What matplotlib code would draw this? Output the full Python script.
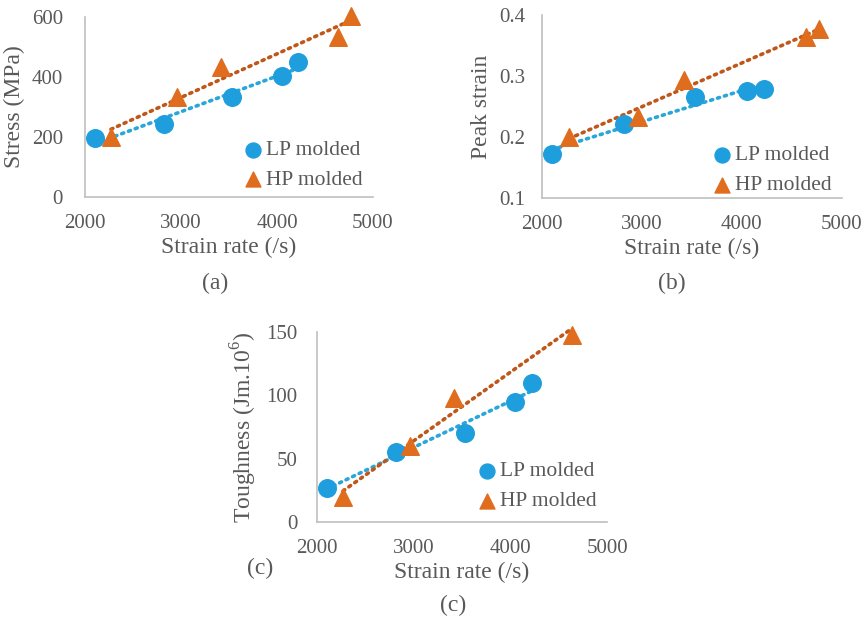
import numpy as np
import matplotlib.pyplot as plt

# strain rates
lp_rate = [2100, 2820, 3530, 4050, 4220]
hp_rate = [2270, 2960, 3420, 4640, 4770]

# (a) stress
lp_stress = [195, 243, 333, 403, 450]
hp_stress = [200, 333, 433, 533, 603]

# (b) peak strain
lp_strain = [0.172, 0.221, 0.266, 0.276, 0.279]
hp_strain = [0.200, 0.233, 0.294, 0.364, 0.377]

# (c) toughness (only four HP points shown)
lp_tough = [27, 55, 70, 95, 110]
hp_rate_c = [2270, 2960, 3420, 4640]
hp_tough = [20, 60, 98, 148]

plt.rcParams['font.family'] = ['Liberation Serif', 'DejaVu Serif']
plt.rcParams['mathtext.fontset'] = 'custom'
plt.rcParams['mathtext.rm'] = 'Liberation Serif'
TXT = '#595959'
BLUE = '#1f9ede'
BLUE_LINE = '#2aa6d8'
ORANGE = '#e06c1e'
ORANGE_LINE = '#c0571a'
FS = 15


def panel(ax, x1, y1, x2, y2, ylim, yticks, ylabel, yfmt, ypad, leg_y):
    ax.scatter(x1, y1, s=160, marker='o', color=BLUE, zorder=3, clip_on=False,
               label='LP molded')
    ax.scatter(x2, y2, s=160, marker='^', color=ORANGE, zorder=3, clip_on=False,
               label='HP molded')
    for x, y, c in [(x1, y1, BLUE_LINE), (x2, y2, ORANGE_LINE)]:
        p = np.polyfit(x, y, 1)
        xx = np.array([min(x), max(x)])
        ax.plot(xx, np.polyval(p, xx), color=c, lw=2.6, dashes=(0.6, 1.4),
                dash_capstyle='round', zorder=2, clip_on=False)
    ax.set_xlim(2000, 5000)
    ax.set_ylim(*ylim)
    ax.set_xticks([2000, 3000, 4000, 5000])
    ax.set_yticks(yticks)
    ax.set_yticklabels([yfmt(v) for v in yticks])
    for s in ['top', 'right']:
        ax.spines[s].set_visible(False)
    for s in ['left', 'bottom']:
        ax.spines[s].set_color('#bfbfbf')
        ax.spines[s].set_linewidth(1.2)
    ax.tick_params(length=0, labelsize=FS, colors=TXT)
    ax.tick_params(axis='x', pad=12)
    ax.tick_params(axis='y', pad=ypad)
    ax.set_xlabel('Strain rate (/s)', fontsize=FS + 2, color=TXT, labelpad=3)
    ax.set_ylabel(ylabel, fontsize=FS + 2, color=TXT, labelpad=5)
    ax.set_facecolor('none')
    leg = ax.legend(loc='lower right', frameon=False, fontsize=FS + 0.5,
                    handlelength=1.0, handletextpad=0.1, labelspacing=0.45,
                    markerscale=0.85, bbox_to_anchor=(1.03, leg_y))
    for t in leg.get_texts():
        t.set_color(TXT)


fig = plt.figure(figsize=(8.61, 6.27), dpi=100)

ax1 = fig.add_axes([0.0987, 0.686, 0.3345, 0.287])
panel(ax1, lp_rate, lp_stress, hp_rate, hp_stress, (0, 600), [0, 200, 400, 600],
      'Stress (MPa)', lambda v: '%d' % v, 16, -0.07)

ax2 = fig.add_axes([0.6295, 0.684, 0.348, 0.292])
panel(ax2, lp_rate, lp_strain, hp_rate, hp_strain, (0.1, 0.4), [0.1, 0.2, 0.3, 0.4],
      'Peak strain', lambda v: '%.1f' % v, 12, -0.09)

ax3 = fig.add_axes([0.368, 0.1675, 0.337, 0.303])
panel(ax3, lp_rate, lp_tough, hp_rate_c, hp_tough, (0, 150), [0, 50, 100, 150],
      'Toughness (Jm.10$^6$)', lambda v: '%d' % v, 14, -0.045)

fig.text(215 / 861, 1 - 283 / 627, '(a)', ha='center', va='center', fontsize=FS + 2, color=TXT)
fig.text(672 / 861, 1 - 283 / 627, '(b)', ha='center', va='center', fontsize=FS + 2, color=TXT)
fig.text(260 / 861, 1 - 568 / 627, '(c)', ha='center', va='center', fontsize=FS + 2, color=TXT)
fig.text(453 / 861, 1 - 605 / 627, '(c)', ha='center', va='center', fontsize=FS + 2, color=TXT)

fig.savefig('out.png', dpi=100)
